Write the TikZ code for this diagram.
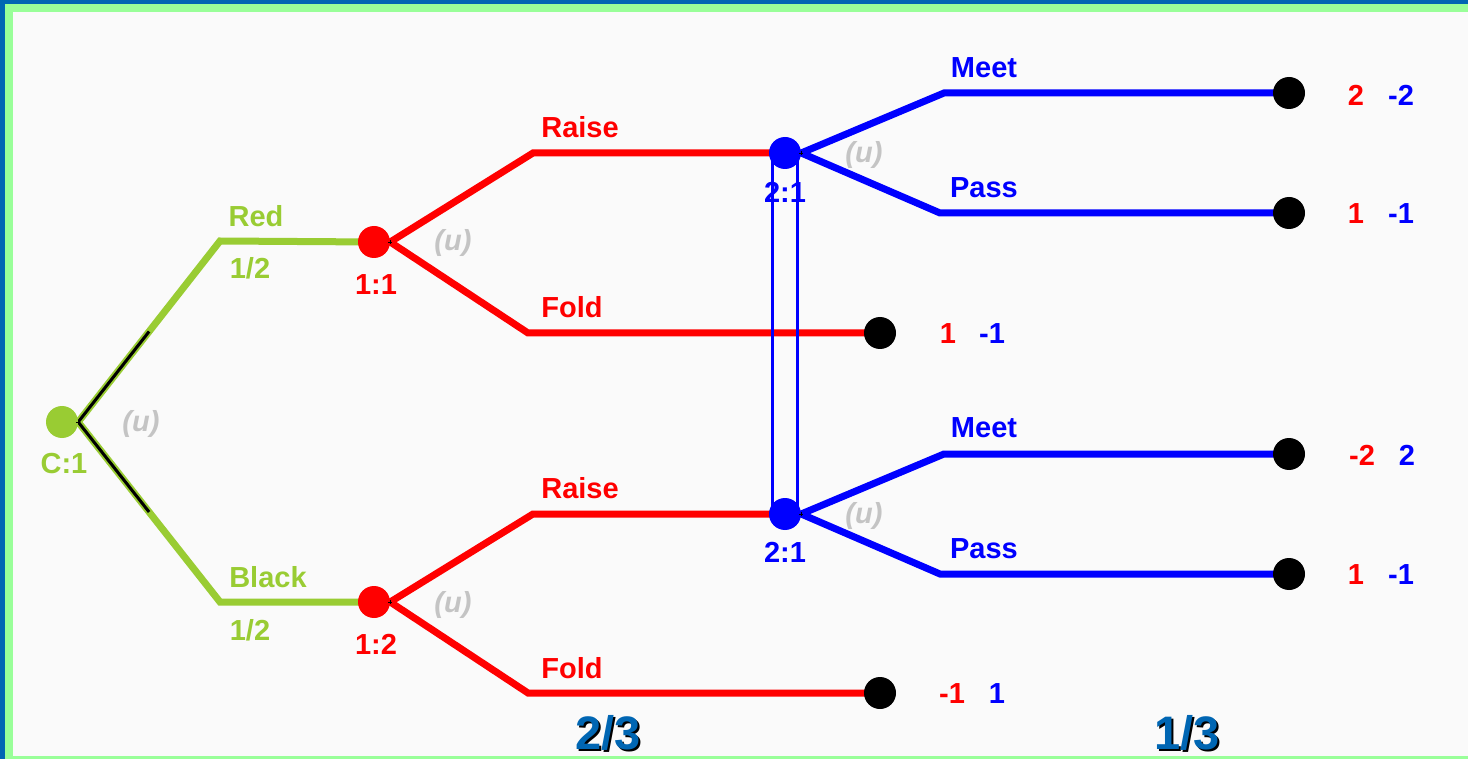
\documentclass[tikz,border=0pt]{standalone}
\usepackage{fontspec}
\setmainfont{Liberation Sans}
\usetikzlibrary{backgrounds,calc}
\definecolor{cgreen}{HTML}{99CC33}
\definecolor{cred}{HTML}{FF0000}
\definecolor{cblue}{HTML}{0000FF}
\definecolor{cgray}{HTML}{C4C4C4}
\definecolor{frameblue}{HTML}{0066B3}
\definecolor{framegreen}{HTML}{99FF99}
\definecolor{paper}{HTML}{FAFAFA}
\begin{document}
\begin{tikzpicture}[x=1pt,y=-1pt,
  dec/.style={circle, minimum size=32pt, inner sep=0pt},
  term/.style={circle, fill=black, minimum size=32pt, inner sep=0pt},
  lbl/.style={font=\fontsize{29}{29}\bfseries\selectfont, inner sep=0pt},
  ulbl/.style={lbl, text=cgray, font=\fontsize{29}{29}\bfseries\itshape\selectfont},
  big/.style={font=\fontsize{47}{47}\bfseries\selectfont, inner sep=0pt},
  gline/.style={cgreen, line width=7pt},
  rline/.style={cred, line width=7pt},
  bline/.style={cblue, line width=7pt},
  blackline/.style={black, line width=3pt},
  infoset/.style={cblue, line width=2.5pt},
  cross/.style={black, line width=0.8pt}]
\useasboundingbox (0,0) rectangle (1468,759);

% decision, chance and terminal nodes
\node[dec, fill=cgreen] (c1) at (62,422) {};
\node[dec, fill=cred] (n11) at (374,242) {};
\node[dec, fill=cred] (n12) at (374,602) {};
\node[dec, fill=cblue] (n21a) at (785,153) {};
\node[dec, fill=cblue] (n21b) at (785,514) {};
\node[term] (tfa) at (880,333) {};
\node[term] (tfb) at (880,693) {};
\node[term] (tma) at (1289,93) {};
\node[term] (tpa) at (1289,213) {};
\node[term] (tmb) at (1289,454) {};
\node[term] (tpb) at (1289,574) {};

% bends of the branches
\coordinate (bred) at (220,241);
\coordinate (bblack) at (220,602);
\coordinate (braisea) at (533,153);
\coordinate (bfolda) at (528,333);
\coordinate (braiseb) at (533,514);
\coordinate (bfoldb) at (528,693);
\coordinate (bmeeta) at (944,93);
\coordinate (bpassa) at (940,213);
\coordinate (bmeetb) at (944,454);
\coordinate (bpassb) at (940,574);

\begin{scope}[on background layer]
  % frame and paper
  \fill[frameblue] (0,0) rectangle (1468,759);
  \fill[framegreen] (5,4) rectangle (1468,759);
  \fill[paper] (13,12) rectangle (1468,756);
  % chance moves
  \draw[gline] (c1.east) -- (bred) -- (n11.center);
  \draw[gline] (c1.east) -- (bblack) -- (n12.center);
  \draw[blackline] (c1.east) -- ($(c1.east)!0.5!(bred)$);
  \draw[blackline] (c1.east) -- ($(c1.east)!0.5!(bblack)$);
  % player 1
  \draw[rline] (n11.east) -- (braisea) -- (n21a.center);
  \draw[rline] (n11.east) -- (bfolda) -- (tfa.center);
  \draw[rline] (n12.east) -- (braiseb) -- (n21b.center);
  \draw[rline] (n12.east) -- (bfoldb) -- (tfb.center);
  % player 2
  \draw[bline] (n21a.east) -- (bmeeta) -- (tma.center);
  \draw[bline] (n21a.east) -- (bpassa) -- (tpa.center);
  \draw[bline] (n21b.east) -- (bmeetb) -- (tmb.center);
  \draw[bline] (n21b.east) -- (bpassb) -- (tpb.center);
  % information set of player 2
  \draw[infoset] ([xshift=-12.5pt]n21a.center) rectangle ([xshift=12.5pt]n21b.center);
\end{scope}

% small marks where the branches leave a node
\foreach \n in {n11,n12,n21a,n21b}{
  \draw[cross] ([xshift=-2pt]\n.east) -- ([xshift=2pt]\n.east)
               ([yshift=-2pt]\n.east) -- ([yshift=2pt]\n.east);
}
\draw[cross] ([xshift=-2pt]c1.east) -- ([xshift=2pt]c1.east);

% node labels
\node[lbl, text=cgreen] (lc1) at (64,464) {C:1};
\node[lbl, text=cred] (l11) at (376,285) {1:1};
\node[lbl, text=cred] (l12) at (376,644) {1:2};
\node[lbl, text=cblue] (l21a) at (785,192) {2:1};
\node[lbl, text=cblue] (l21b) at (785,552) {2:1};
\node[ulbl] (uc1) at (141,424) {(u)};
\node[ulbl] (u11) at (453,243) {(u)};
\node[ulbl] (u12) at (453,605) {(u)};
\node[ulbl] (u21a) at (864,155) {(u)};
\node[ulbl] (u21b) at (864,516) {(u)};

% move labels
\node[lbl, text=cgreen] (lred) at (256,216) {Red};
\node[lbl, text=cgreen] (pred) at (250,268) {1/2};
\node[lbl, text=cgreen] (lblack) at (268,577) {Black};
\node[lbl, text=cgreen] (pblack) at (250,630) {1/2};
\node[lbl, text=cred] (lraisea) at (580,127) {Raise};
\node[lbl, text=cred] (lfolda) at (572,307) {Fold};
\node[lbl, text=cred] (lraiseb) at (580,488) {Raise};
\node[lbl, text=cred] (lfoldb) at (572,668) {Fold};
\node[lbl, text=cblue] (lmeeta) at (984,68) {Meet};
\node[lbl, text=cblue] (lpassa) at (984,188) {Pass};
\node[lbl, text=cblue] (lmeetb) at (984,428) {Meet};
\node[lbl, text=cblue] (lpassb) at (984,549) {Pass};

% payoffs
\node[lbl, text=cred] (pa1) at (1356,95) {2};
\node[lbl, text=cblue] (pa2) at (1401,95) {-2};
\node[lbl, text=cred] (pb1) at (1356,214) {1};
\node[lbl, text=cblue] (pb2) at (1401,214) {-1};
\node[lbl, text=cred] (pc1) at (948,334) {1};
\node[lbl, text=cblue] (pc2) at (992,334) {-1};
\node[lbl, text=cred] (pd1) at (1362,455) {-2};
\node[lbl, text=cblue] (pd2) at (1407,455) {2};
\node[lbl, text=cred] (pe1) at (1356,575) {1};
\node[lbl, text=cblue] (pe2) at (1401,575) {-1};
\node[lbl, text=cred] (pf1) at (952,694) {-1};
\node[lbl, text=cblue] (pf2) at (997,694) {1};

% probabilities of the two player-2 beliefs
\node[big, text=black] (twoS) at (610,735) {2/3};
\node[big, text=frameblue] (two) at (608,733) {2/3};
\node[big, text=black] (oneS) at (1189,735) {1/3};
\node[big, text=frameblue] (one) at (1187,733) {1/3};
\end{tikzpicture}
\end{document}
